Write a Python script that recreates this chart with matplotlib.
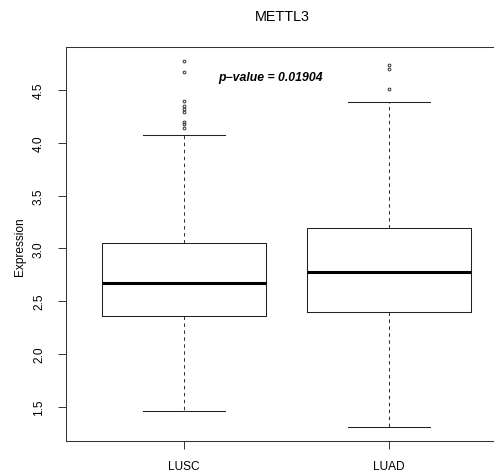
import matplotlib
matplotlib.use('Agg')
import matplotlib.pyplot as plt

plt.rcParams['font.family'] = ['Liberation Sans', 'DejaVu Sans']
plt.rcParams['lines.scale_dashes'] = False

groups = ['LUSC', 'LUAD']
# lower whisker, Q1, median, Q3, upper whisker
whislo = [1.456, 1.304]
q1 = [2.359, 2.397]
med = [2.674, 2.779]
q3 = [3.053, 3.193]
whishi = [4.077, 4.386]
outliers = [
    [4.778, 4.673, 4.399, 4.346, 4.320, 4.289, 4.197, 4.178, 4.140],
    [4.737, 4.699, 4.509],
]
title = 'METTL3'
ylabel = 'Expression'
pval_text = 'p\u2212value = 0.01904'
yticks = [1.5, 2.0, 2.5, 3.0, 3.5, 4.0, 4.5]

stats = []
for i in range(len(groups)):
    stats.append(dict(whislo=whislo[i], q1=q1[i], med=med[i], q3=q3[i],
                      whishi=whishi[i], fliers=outliers[i], label=groups[i]))

fig = plt.figure(figsize=(4.94, 4.77), dpi=100)
ax = fig.add_axes([0.1328, 0.0727, 0.8949, 0.8273])

lw = 0.75
ax.bxp(stats, positions=[1, 2], widths=0.8,
       boxprops=dict(color='#222222', linewidth=lw),
       medianprops=dict(color='black', linewidth=2.2, solid_capstyle='butt'),
       whiskerprops=dict(color='#333333', linewidth=lw, linestyle=(0, (2.5, 2.5))),
       capprops=dict(color='#222222', linewidth=lw),
       capwidths=0.4,
       flierprops=dict(marker='o', markersize=2.0, markerfacecolor='none',
                       markeredgecolor='#333333', markeredgewidth=0.7))

ax.set_xlim(0.42, 2.58)
ax.set_ylim(1.172, 4.91)
ax.set_yticks(yticks)
ax.set_yticklabels([f'{v:.1f}' for v in yticks], rotation=90, va='center')
ax.set_xticks([1, 2])
ax.set_xticklabels(groups)

ax.tick_params(axis='both', direction='out', length=5.8, width=0.7,
               color='#333333', labelsize=8.6)
ax.tick_params(axis='y', pad=9.0)
ax.tick_params(axis='x', pad=8)
for s in ax.spines.values():
    s.set_linewidth(0.75)
    s.set_color('#333333')

fig.text(20 / 494, 1 - 247 / 477, ylabel, rotation=90, ha='center',
         va='center', fontsize=8.6)

ax.text(1.42, 4.62, pval_text, ha='center', va='center',
        fontsize=8.8, fontweight='bold', fontstyle='italic')

fig.text(282.7 / 494, 1 - 16.7 / 477, title, ha='center', va='center',
         fontsize=10.4)

fig.savefig('out.png', dpi=100)
